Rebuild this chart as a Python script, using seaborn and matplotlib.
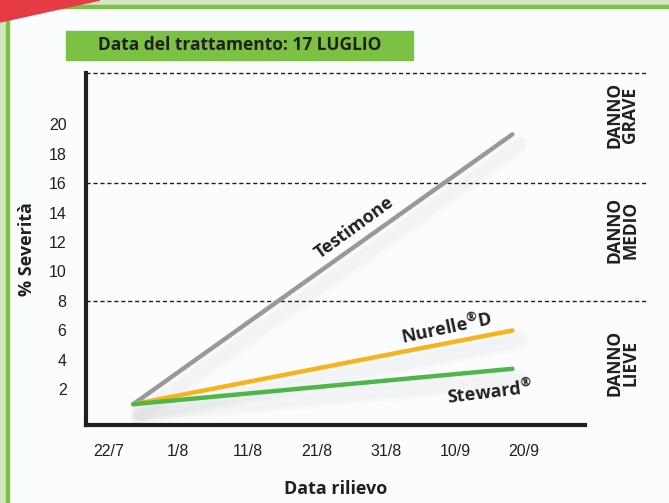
import numpy as np
import pandas as pd
import matplotlib.pyplot as plt
import matplotlib.transforms as mtransforms
from matplotlib.patches import Rectangle, Polygon
import seaborn as sns

# --- data (x = days after 22/7) ---
series_names = ["Testimone", "Nurelle®D", "Steward®"]
days = [3.5, 58.3]
testimone = [1.0, 19.3]
nurelle = [1.0, 6.0]
steward = [1.0, 3.4]

tick_days = [0, 10, 20, 30, 40, 50, 60]
tick_labels = ["22/7", "1/8", "11/8", "21/8", "31/8", "10/9", "20/9"]
y_ticks = [2, 4, 6, 8, 10, 12, 14, 16, 18, 20]
thresholds = [8, 16]
zone_labels = ["DANNO\nLIEVE", "DANNO\nMEDIO", "DANNO\nGRAVE"]
zone_centers = [3.8, 12.8, 20.6]

df = pd.DataFrame({
    "giorno": days * 3,
    "severita": testimone + nurelle + steward,
    "tesi": [series_names[0]] * 2 + [series_names[1]] * 2 + [series_names[2]] * 2,
})
palette = {"Testimone": "#98999b", "Nurelle®D": "#f6b31b", "Steward®": "#4db748"}

sns.set_style("white")
plt.rcParams["font.family"] = ["Open Sans", "DejaVu Sans"]
plt.rcParams["mathtext.fontset"] = "custom"
plt.rcParams["mathtext.rm"] = "Open Sans"
plt.rcParams["mathtext.bf"] = "Open Sans:bold"
dark = "#231f20"
tick_font = ["Liberation Sans", "DejaVu Sans"]

fig = plt.figure(figsize=(6.69, 5.03), dpi=100)
fig.patch.set_facecolor("#fbfcfd")

# page decorations: green border, red corner
fig.add_artist(Rectangle((0, 0), 6 / 669, 1, transform=fig.transFigure, color="#d3e6c0", zorder=0))
fig.add_artist(Rectangle((6 / 669, 0), 2.5 / 669, 497 / 503, transform=fig.transFigure, color="#7dc242", zorder=0))
fig.add_artist(Rectangle((0, 497 / 503), 1, 6 / 503, transform=fig.transFigure, color="#d3e6c0", zorder=0))
fig.add_artist(Rectangle((0, 495 / 503), 1, 2.5 / 503, transform=fig.transFigure, color="#7dc242", zorder=0))
fig.add_artist(Polygon([(0, 1), (100 / 669, 1), (0, 481 / 503)], closed=True,
                       transform=fig.transFigure, color="#e63a45", zorder=1))

ax = fig.add_axes([86 / 669, 78 / 503, 499 / 669, 352 / 503])
ax.set_facecolor("none")

# soft shadows beneath the lines
for name, vals in zip(series_names, [testimone, nurelle, steward]):
    for lw, a in [(14, 0.06), (9, 0.08)]:
        ax.plot(np.array(days) + 1.0, np.array(vals) - 0.7, color="#b8b9bb", lw=lw, alpha=a,
                solid_capstyle="round", zorder=1)

sns.lineplot(data=df, x="giorno", y="severita", hue="tesi", palette=palette,
             hue_order=series_names, linewidth=3.2, legend=False, ax=ax, zorder=3)

ax.set_xlim(-3.33, 68.8)
ax.set_ylim(-0.41, 23.46)

ax.set_xticks(tick_days)
ax.set_xticklabels(tick_labels, fontsize=11.5, color=dark, family=tick_font)
ax.set_yticks(y_ticks)
ax.set_yticklabels([str(v) for v in y_ticks], fontsize=11.5, color=dark, family=tick_font)
ax.tick_params(axis="x", direction="inout", length=11, width=2, color=dark, pad=8)
ax.tick_params(axis="y", length=0, pad=14)

for s in ["top", "right"]:
    ax.spines[s].set_visible(False)
for s in ["left", "bottom"]:
    ax.spines[s].set_color(dark)
    ax.spines[s].set_linewidth(3)

ax.set_xlabel("Data rilievo", fontsize=13, fontweight="bold", color=dark, labelpad=15)
ax.set_ylabel("% Severità", fontsize=13, fontweight="bold", color=dark, labelpad=9)

# damage thresholds, extending into the right margin
trans = mtransforms.blended_transform_factory(ax.transAxes, ax.transData)
for yv in thresholds + [23.46]:
    ax.plot([0, 1.126], [yv, yv], transform=trans, color=dark, lw=1.0,
            linestyle=(0, (3, 2)), clip_on=False, zorder=2)
for lab, yc in zip(zone_labels, zone_centers):
    ax.text(1.075, yc, lab, transform=trans, rotation=90, ha="center", va="center",
            fontsize=12.5, fontweight="bold", color=dark, linespacing=0.85)

# series labels
ax.text(35.4, 13.0, "Testimone", rotation=36, ha="center", va="center",
        fontsize=13, fontweight="bold", color=dark)
ax.text(48.8, 6.2, r"$\mathbf{Nurelle^{®}D}$", rotation=12, ha="center", va="center",
        fontsize=13, color=dark)
ax.text(55.0, 1.8, r"$\mathbf{Steward^{®}}$", rotation=7, ha="center", va="center",
        fontsize=13, color=dark)

# title box
fig.add_artist(Rectangle((66 / 669, 1 - 60 / 503), 347 / 669, 29 / 503,
                         transform=fig.transFigure, color="#7bc143", zorder=1))
fig.text(240 / 669, 1 - 45.5 / 503, "Data del trattamento: 17 LUGLIO", ha="center", va="center",
         fontsize=12.5, fontweight="bold", color=dark, zorder=2)

plt.savefig("out.png", dpi=100, facecolor=fig.get_facecolor())
plt.close(fig)
